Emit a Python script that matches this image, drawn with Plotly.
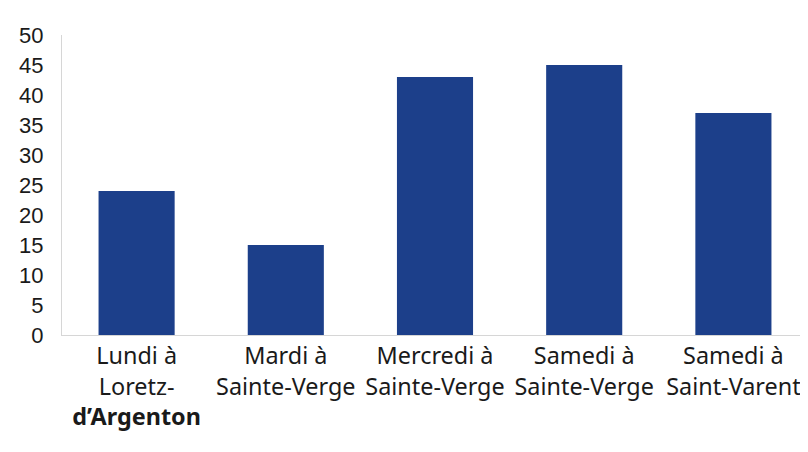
import plotly.graph_objects as go

categories = [
    "Lundi à<br>Loretz-<br><b>d’Argenton</b>",
    "Mardi à<br>Sainte-Verge",
    "Mercredi à<br>Sainte-Verge",
    "Samedi à<br>Sainte-Verge",
    "Samedi à<br>Saint-Varent",
]
values = [24, 15, 43, 45, 37]
y_ticks = [0, 5, 10, 15, 20, 25, 30, 35, 40, 45, 50]

fig = go.Figure(
    go.Bar(x=categories, y=values, marker=dict(color="#1c3f8a", line=dict(width=0)))
)

# page body has an 8px default margin, so offset the figure margins accordingly
fig.update_layout(
    width=808,
    height=452,
    margin=dict(l=54, r=8, t=27, b=125),
    paper_bgcolor="white",
    plot_bgcolor="white",
    bargap=0.49,
    showlegend=False,
)
fig.update_xaxes(
    automargin=False,
    showline=True,
    linecolor="#d6d6d6",
    linewidth=1,
    showgrid=False,
    ticks="outside",
    ticklen=0,
    tickcolor="rgba(0,0,0,0)",
    tickangle=0,
    tickfont=dict(family="Noto Sans", size=23.4, color="#1a1a1a"),
)
fig.update_yaxes(
    automargin=False,
    range=[0, 50],
    tickvals=y_ticks,
    showline=True,
    linecolor="#d6d6d6",
    linewidth=1,
    showgrid=False,
    zeroline=False,
    ticks="outside",
    ticklen=13,
    tickcolor="rgba(0,0,0,0)",
    tickfont=dict(family="Liberation Sans, Arial", size=22, color="#1a1a1a"),
)

fig.write_html("out.html")
